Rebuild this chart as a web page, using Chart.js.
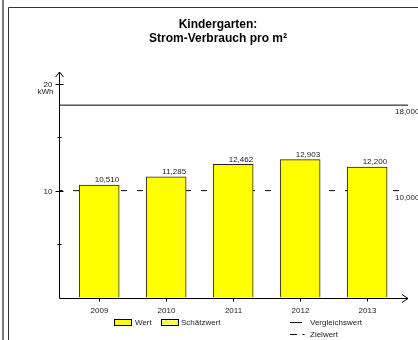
<!DOCTYPE html>
<html>
<head>
<meta charset="utf-8">
<script src="https://cdn.jsdelivr.net/npm/chart.js@4/dist/chart.umd.min.js"></script>
<style>
  html, body { margin: 0; padding: 0; background: #fff; overflow: hidden; }
</style>
</head>
<body>
<canvas id="chart" width="418" height="340"></canvas>
<script>
// ── Kindergarten: Strom-Verbrauch pro m² ──
const TITLE = ['Kindergarten:', 'Strom-Verbrauch pro m²'];
const YEARS = [2009, 2010, 2011, 2012, 2013];
const WERT = [10.510, 11.285, 12.462, 12.903, 12.200];
const SCHAETZWERT = [];
const VERGLEICHSWERT = 18;
const ZIELWERT = 10;
const Y_TICKS = [5, 10, 15, 20];
const Y_LABELS = [10, 20];
const Y_UNIT = 'kWh';

const X_MIN = 2008.4, X_MAX = 2013.61, Y_MAX = 21.1;
const FONT = '"Liberation Sans", Arial, sans-serif';
const TXT = '#222';
const fmt = v => v.toFixed(3).replace('.', ',');

function hline(ctx, x1, x2, y) { ctx.beginPath(); ctx.moveTo(x1, y); ctx.lineTo(x2, y); ctx.stroke(); }

const decor = {
  id: 'decor',
  beforeDraw(chart) {
    const { ctx, width, height } = chart;
    ctx.save();
    ctx.fillStyle = '#fff';
    ctx.fillRect(0, 0, width, height);
    // page edge + frame
    ctx.fillStyle = '#7a7a7a';
    ctx.fillRect(2, 0, 2, height);
    ctx.strokeStyle = '#333';
    ctx.lineWidth = 1;
    ctx.beginPath(); ctx.moveTo(8.5, height); ctx.lineTo(8.5, 7.5); ctx.lineTo(width, 7.5); ctx.stroke();
    // title
    ctx.fillStyle = '#000';
    ctx.font = 'bold 12px ' + FONT;
    ctx.textAlign = 'center';
    ctx.textBaseline = 'middle';
    ctx.fillText(TITLE[0], 218, 25);
    ctx.fillText(TITLE[1], 218, 39);
    ctx.restore();
  },
  afterDatasetsDraw(chart) {
    const { ctx, chartArea: a, scales: { x, y } } = chart;
    const ax = Math.round(a.left) + 0.5;
    const ay = Math.round(y.getPixelForValue(0)) + 0.5;
    ctx.save();
    ctx.strokeStyle = '#000';
    ctx.fillStyle = TXT;
    ctx.lineWidth = 1;

    // axes with arrow heads
    ctx.beginPath(); ctx.moveTo(ax, ay); ctx.lineTo(ax, a.top); ctx.stroke();
    ctx.beginPath(); ctx.moveTo(ax - 4, a.top + 5); ctx.lineTo(ax, a.top); ctx.lineTo(ax + 4, a.top + 5); ctx.stroke();
    hline(ctx, ax, a.right, ay);
    ctx.beginPath(); ctx.moveTo(a.right - 6, ay - 4); ctx.lineTo(a.right, ay); ctx.lineTo(a.right - 6, ay + 4); ctx.stroke();

    // y ticks + labels
    ctx.font = '8px ' + FONT;
    ctx.textAlign = 'right';
    ctx.textBaseline = 'middle';
    Y_TICKS.forEach(t => {
      const py = Math.round(y.getPixelForValue(t)) + 0.5;
      const major = Y_LABELS.includes(t);
      hline(ctx, ax - (major ? 4 : 2), ax + (major ? 4 : 2), py);
      if (major) ctx.fillText(String(t), ax - 7, py);
    });
    const top = y.getPixelForValue(Math.max(...Y_LABELS));
    ctx.fillText(Y_UNIT, ax - 6, top + 8);

    // x ticks + labels
    ctx.textAlign = 'center';
    YEARS.forEach(yr => {
      const px = Math.round(x.getPixelForValue(yr)) + 0.5;
      ctx.beginPath(); ctx.moveTo(px, ay); ctx.lineTo(px, ay + 3); ctx.stroke();
      ctx.fillText(String(yr), px, ay + 12);
    });

    // bar value labels, right aligned to bar edge
    ctx.textAlign = 'right';
    chart.getDatasetMeta(0).data.forEach((bar, i) => {
      ctx.fillText(fmt(WERT[i]), bar.x + bar.width / 2, bar.y - 5);
    });

    // reference line values
    ctx.textAlign = 'left';
    [VERGLEICHSWERT, ZIELWERT].forEach(v => {
      ctx.fillText(fmt(v), a.right - 13, y.getPixelForValue(v) + 7);
    });

    // legend
    const ly = 322.5;
    ctx.fillStyle = '#ffff00';
    ctx.fillRect(114.5, 319.5, 17, 6);
    ctx.strokeRect(114.5, 319.5, 17, 6);
    ctx.fillStyle = '#fff';
    ctx.fillRect(161.5, 319.5, 17, 6);
    ctx.strokeStyle = '#ffff00';
    ctx.lineWidth = 2;
    ctx.beginPath();
    ctx.moveTo(162, 321);
    for (let i = 0; i < 4; i++) { ctx.lineTo(164 + i * 4, 324); ctx.lineTo(166 + i * 4, 321); }
    ctx.stroke();
    ctx.strokeStyle = '#000';
    ctx.lineWidth = 1;
    ctx.strokeRect(161.5, 319.5, 17, 6);
    hline(ctx, 290, 302, ly);
    hline(ctx, 290, 297, ly + 12);
    hline(ctx, 302.5, 304.5, ly + 12);

    ctx.fillStyle = TXT;
    const labels = chart.data.datasets.map(d => d.label);
    ctx.fillText(labels[0], 135, ly);
    ctx.fillText(labels[1], 181, ly);
    ctx.fillText(labels[2], 310, ly);
    ctx.fillText(labels[3], 310, ly + 12);
    ctx.restore();
  }
};

new Chart(document.getElementById('chart'), {
  type: 'bar',
  data: {
    datasets: [
      {
        type: 'bar', label: 'Wert',
        data: YEARS.map((yr, i) => ({ x: yr, y: WERT[i] })),
        backgroundColor: '#ffff00', borderColor: '#222', borderWidth: 1,
        barThickness: 40, grouped: false, order: 1,
      },
      {
        type: 'bar', label: 'Schätzwert',
        data: SCHAETZWERT,
        backgroundColor: '#ffff00', borderColor: '#222', borderWidth: 1,
        barThickness: 40, grouped: false, order: 1,
      },
      {
        type: 'line', label: 'Vergleichswert',
        data: [{ x: X_MIN, y: VERGLEICHSWERT }, { x: X_MAX, y: VERGLEICHSWERT }],
        borderColor: '#000', borderWidth: 1, pointRadius: 0, order: 0,
      },
      {
        type: 'line', label: 'Zielwert',
        data: [{ x: X_MIN, y: ZIELWERT }, { x: X_MAX - 0.05, y: ZIELWERT }],
        borderColor: '#000', borderWidth: 1, pointRadius: 0,
        borderDash: [6, 10], borderDashOffset: 2, order: 3,
      },
    ],
  },
  options: {
    responsive: false,
    devicePixelRatio: 1,
    animation: false,
    layout: { padding: { left: 59, right: 10, top: 72, bottom: 42.5 } },
    plugins: { legend: { display: false }, tooltip: { enabled: false } },
    scales: {
      x: { type: 'linear', display: false, offset: false, min: X_MIN, max: X_MAX },
      y: { display: false, min: 0, max: Y_MAX },
    },
  },
  plugins: [decor],
});
</script>
</body>
</html>
